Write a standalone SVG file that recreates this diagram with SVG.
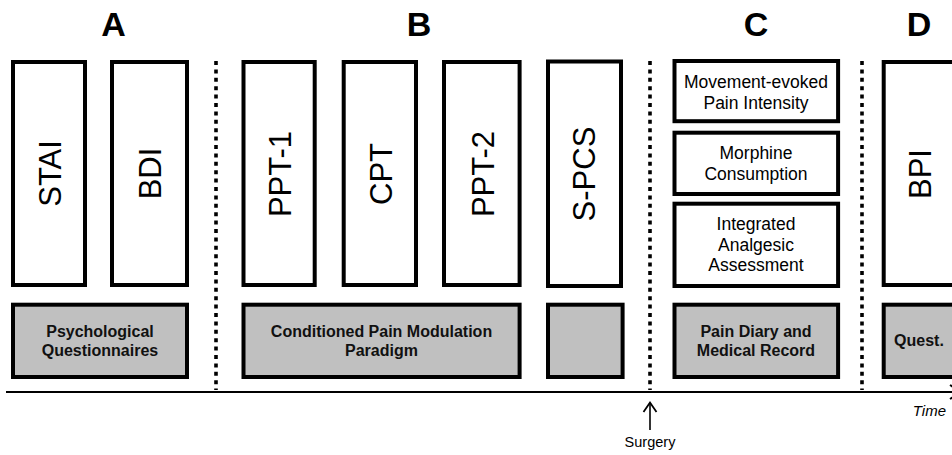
<svg xmlns="http://www.w3.org/2000/svg" width="952" height="455" viewBox="0 0 952 455">
<style>
.box{fill:#fff;stroke:#000;stroke-width:4}
.gbox{fill:#c0c0c0;stroke:#000;stroke-width:4}
.head{font-family:"Liberation Sans",Arial,sans-serif;font-weight:bold;font-size:34px;text-anchor:middle;fill:#000}
.vt{font-family:"Liberation Sans",Arial,sans-serif;font-size:31px;text-anchor:middle;fill:#000}
.ct{font-family:"Liberation Sans",Arial,sans-serif;font-size:17.5px;text-anchor:middle;fill:#000}
.bt{font-family:"Liberation Sans",Arial,sans-serif;font-weight:bold;font-size:16px;text-anchor:middle;fill:#111}
.dot{stroke:#000;stroke-width:3.6;stroke-dasharray:4 4.4;fill:none}
.ln{stroke:#000;fill:none}
</style>
<rect width="952" height="455" fill="#fff"/>
<g id="headings">
<text class="head" x="113.5" y="36">A</text>
<text class="head" x="419" y="36">B</text>
<text class="head" x="756" y="36">C</text>
<text class="head" x="919" y="36">D</text>
</g>
<g id="node-stai"><rect class="box" x="13" y="62" width="72" height="223"/><text class="vt" transform="translate(60.5,173.5) rotate(-90)">STAI</text></g>
<g id="node-bdi"><rect class="box" x="112" y="62" width="75" height="223"/><text class="vt" transform="translate(161,173.5) rotate(-90)">BDI</text></g>
<g id="node-ppt1"><rect class="box" x="243.5" y="62" width="71.2" height="223"/><text class="vt" transform="translate(290.5,174) rotate(-90)">PPT-1</text></g>
<g id="node-cpt"><rect class="box" x="343.7" y="62" width="72.3" height="223"/><text class="vt" transform="translate(391.5,174) rotate(-90)">CPT</text></g>
<g id="node-ppt2"><rect class="box" x="444" y="62" width="75.6" height="223"/><text class="vt" transform="translate(493.5,174) rotate(-90)">PPT-2</text></g>
<g id="node-spcs"><rect class="box" x="548" y="61.5" width="73" height="224.5"/><text class="vt" transform="translate(595,174) rotate(-90)">S-PCS</text></g>
<g id="node-movement"><rect class="box" x="674.5" y="61" width="163.6" height="60.2"/><text class="ct" x="756" y="88">Movement-evoked</text><text class="ct" x="756" y="108.5">Pain Intensity</text></g>
<g id="node-morphine"><rect class="box" x="674.5" y="132.7" width="163.6" height="61.3"/><text class="ct" x="756" y="159">Morphine</text><text class="ct" x="756" y="179.5">Consumption</text></g>
<g id="node-integrated"><rect class="box" x="674.5" y="203.7" width="163.6" height="82.3"/><text class="ct" x="756" y="230">Integrated</text><text class="ct" x="756" y="250.5">Analgesic</text><text class="ct" x="756" y="271">Assessment</text></g>
<g id="node-bpi"><rect class="box" x="883.7" y="62" width="75" height="223"/><text class="vt" transform="translate(930.5,174) rotate(-90)">BPI</text></g>
<g id="node-psych"><rect class="gbox" x="13" y="304.7" width="174" height="72.3"/><text class="bt" x="100" y="337">Psychological</text><text class="bt" x="100" y="356">Questionnaires</text></g>
<g id="node-cpm"><rect class="gbox" x="243.5" y="304.7" width="276.1" height="72.3"/><text class="bt" x="381.5" y="337">Conditioned Pain Modulation</text><text class="bt" x="381.5" y="356">Paradigm</text></g>
<g id="node-spcs-g"><rect class="gbox" x="548" y="304.7" width="74.6" height="72.3"/></g>
<g id="node-diary"><rect class="gbox" x="674.5" y="304.7" width="163.6" height="72.3"/><text class="bt" x="756" y="337">Pain Diary and</text><text class="bt" x="756" y="356">Medical Record</text></g>
<g id="node-quest"><rect class="gbox" x="883.7" y="304.7" width="75" height="72.3"/><text class="bt" x="919" y="346">Quest.</text></g>
<g id="connectors">
<line class="dot" x1="216" y1="61" x2="216" y2="390"/>
<line class="dot" x1="650" y1="61" x2="650" y2="390"/>
<line class="dot" x1="862" y1="61" x2="862" y2="390"/>
<line class="ln" x1="6" y1="392" x2="958" y2="392" stroke-width="2"/>
<polyline class="ln" points="950,385 961,392 950,399" stroke-width="2"/>
<line class="ln" x1="650" y1="403" x2="650" y2="430" stroke-width="1.6"/>
<polyline class="ln" points="643.5,412 650,402.5 656.5,412" stroke-width="1.8"/>
</g>
<g id="labels">
<text x="946" y="416" font-family="Liberation Sans, Arial, sans-serif" font-style="italic" font-size="15" text-anchor="end">Time</text>
<text x="650" y="447" font-family="Liberation Sans, Arial, sans-serif" font-size="14.5" text-anchor="middle">Surgery</text>
</g>
</svg>
